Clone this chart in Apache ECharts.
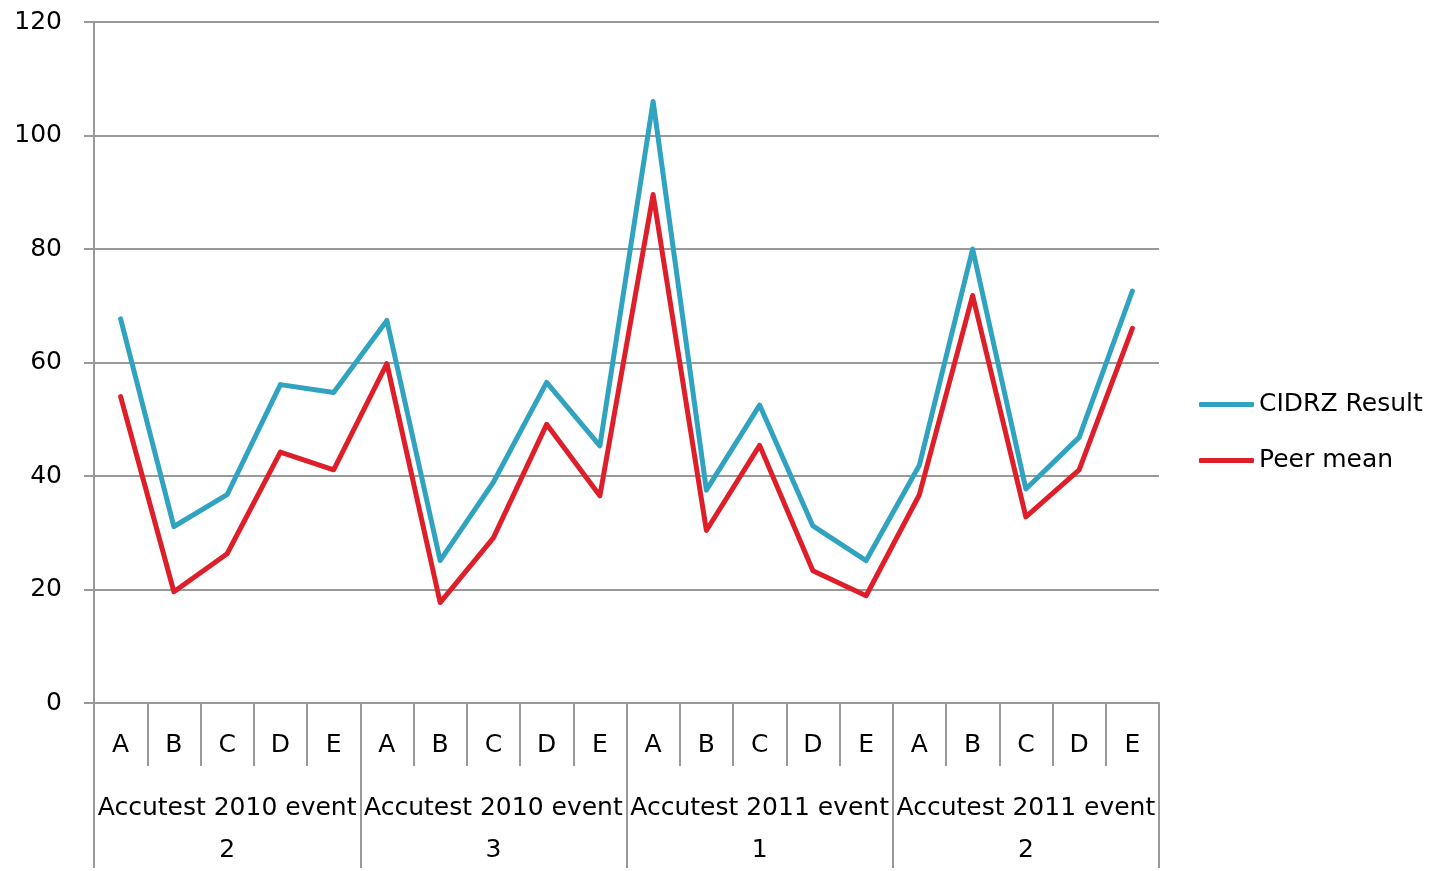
<!DOCTYPE html>
<html><head><meta charset="utf-8">
<script src="https://cdn.jsdelivr.net/npm/echarts@6/dist/echarts.min.js"></script>
<style>html,body{margin:0;padding:0;background:#fff}#c{width:1432px;height:871px}</style>
</head><body><div id="c"></div>
<script>
const subCategories = ['A','B','C','D','E','A','B','C','D','E','A','B','C','D','E','A','B','C','D','E'];
const groupCategories = ['Accutest 2010 event\n2','Accutest 2010 event\n3','Accutest 2011 event\n1','Accutest 2011 event\n2'];
const cidrzResult = [67.7,31.1,36.7,56.1,54.7, 67.4,25.1,38.9,56.5,45.3, 106,37.5,52.5,31.2,25.1, 41.9,80,37.7,46.8,72.6];
const peerMean = [54,19.6,26.3,44.2,41.1, 59.8,17.7,29.1,49.1,36.5, 89.6,30.4,45.4,23.3,18.9, 36.7,71.8,32.8,41.1,66];
const yTicks = {min:0, max:120, interval:20};

const gray = '#999';
const font = 'DejaVu Sans';
const fs = 25;
const chart = echarts.init(document.getElementById('c'));
chart.setOption({
  animation:false,
  textStyle:{fontFamily:font},
  grid:{left:94, right:273, top:22, bottom:165, containLabel:false},
  legend:{
    orient:'vertical', left:1199, top:392, padding:0, itemWidth:55, itemHeight:5, icon:'roundRect', itemGap:31,
    textStyle:{fontSize:fs, color:'#000', fontFamily:font},
    data:['CIDRZ Result','Peer mean']
  },
  xAxis:[
    {type:'category', data:subCategories, position:'bottom', boundaryGap:true,
     axisLine:{show:true, lineStyle:{color:gray, width:2}},
     axisTick:{show:true, interval:0, length:63, lineStyle:{color:gray, width:2}},
     axisLabel:{interval:0, margin:30, fontSize:fs, color:'#000', fontFamily:font},
     splitLine:{show:false}},
    {type:'category', data:groupCategories, position:'bottom', boundaryGap:true,
     axisLine:{show:false},
     axisTick:{show:true, interval:0, length:165, lineStyle:{color:gray, width:2}},
     axisLabel:{interval:0, margin:84, fontSize:fs, lineHeight:42, color:'#000', fontFamily:font},
     splitLine:{show:false}}
  ],
  yAxis:{type:'value', min:yTicks.min, max:yTicks.max, interval:yTicks.interval,
    axisLine:{show:true, lineStyle:{color:gray, width:2}},
    axisTick:{show:true, length:10, lineStyle:{color:gray, width:2}},
    axisLabel:{margin:32, fontSize:fs, color:'#000', fontFamily:font},
    splitLine:{show:true, lineStyle:{color:gray, width:2}}},
  series:[
    {name:'CIDRZ Result', type:'line', data:cidrzResult, showSymbol:false, symbol:'none',
     itemStyle:{color:'#2FA3C0'}, lineStyle:{color:'#2FA3C0', width:5, cap:'round', join:'round'}},
    {name:'Peer mean', type:'line', data:peerMean, showSymbol:false, symbol:'none',
     itemStyle:{color:'#DE1F2A'}, lineStyle:{color:'#DE1F2A', width:5, cap:'round', join:'round'}}
  ]
});
</script></body></html>
